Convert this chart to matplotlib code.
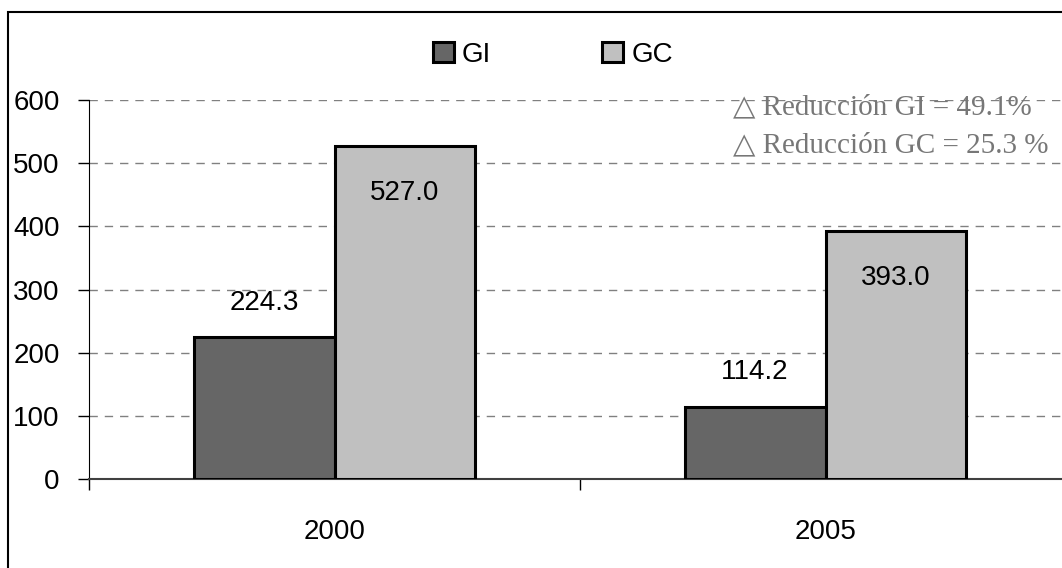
import matplotlib

matplotlib.use("Agg")

import matplotlib.pyplot as plt
from matplotlib.patches import Rectangle

years = ["2000", "2005"]
gi_values = [224.3, 114.2]
gc_values = [527.0, 393.0]
series_names = ["GI", "GC"]
notes = ["\u25b3 Reducción GI = 49.1%", "\u25b3 Reducción GC = 25.3 %"]

GI_COLOR = "#666666"
GC_COLOR = "#C0C0C0"
GRID_COLOR = "#808080"

plt.rcParams["font.family"] = ["Liberation Sans Narrow", "Liberation Sans", "DejaVu Sans"]

dpi = 100
fig = plt.figure(figsize=(1062 / dpi, 568 / dpi), dpi=dpi)
fig.patch.set_facecolor("white")

# outer frame, cropped at the right and bottom like the source image
fig.patches.append(Rectangle((8 / 1062, -0.1), 1.2, (568 - 12) / 568 + 0.1,
                             transform=fig.transFigure, fill=False,
                             edgecolor="black", linewidth=1.5, clip_on=False))

# axes run past the right edge of the figure
ax = fig.add_axes([89 / 1062, (568 - 479) / 568, (1071 - 89) / 1062, 379 / 568])
ax.set_facecolor("none")

x = list(range(len(years)))
width = 0.287
gi_x = [i - width / 2 for i in x]
gc_x = [i + width / 2 for i in x]
bars_gi = ax.bar(gi_x, gi_values, width=width, color=GI_COLOR, edgecolor="black",
                 linewidth=2.2, label=series_names[0], zorder=3)
bars_gc = ax.bar(gc_x, gc_values, width=width, color=GC_COLOR, edgecolor="black",
                 linewidth=2.2, label=series_names[1], zorder=3)

for bar, v in zip(bars_gi, gi_values):
    ax.annotate(f"{v:.1f}", (bar.get_x() + bar.get_width() / 2, v),
                xytext=(0, 25), textcoords="offset points",
                ha="center", va="center", fontsize=20, color="black")
for bar, v in zip(bars_gc, gc_values):
    ax.annotate(f"{v:.1f}", (bar.get_x() + bar.get_width() / 2, v),
                xytext=(0, -34), textcoords="offset points",
                ha="center", va="center", fontsize=20, color="black", zorder=4)

ax.set_ylim(0, 600)
ax.set_xlim(-0.5, len(years) - 0.5)
ax.set_yticks(range(0, 601, 100))
ax.tick_params(axis="y", direction="out", length=8, width=1, pad=13,
               labelsize=20, colors="black")

# category boundary ticks without labels, labels on minor ticks at centers
ax.set_xticks([i - 0.5 for i in range(len(years) + 1)])
ax.set_xticklabels([])
ax.set_xticks(x, minor=True)
ax.set_xticklabels(years, minor=True)
ax.tick_params(axis="x", which="major", direction="out", length=8, width=1)
ax.tick_params(axis="x", which="minor", length=0, pad=29, labelsize=20)

for yv in range(100, 601, 100):
    ax.axhline(yv, color=GRID_COLOR, linestyle=(0, (6, 5)), linewidth=1, zorder=1)

ax.spines["top"].set_visible(False)
ax.spines["right"].set_visible(False)
ax.spines["left"].set_color("black")
ax.spines["bottom"].set_color("#404040")
ax.spines["bottom"].set_linewidth(1.5)
ax.spines["left"].set_bounds(0, 600)

for i, note in enumerate(notes):
    fig.text(733 / 1062, 1 - (107 + 38 * i) / 568, note, ha="left", va="center",
             fontsize=21, color="#777777",
             family=["Liberation Serif", "DejaVu Serif", "DejaVu Sans"])

fig.legend(handles=[bars_gi, bars_gc], labels=series_names, loc="center",
           bbox_to_anchor=(553 / 1062, 1 - 55 / 568), ncol=2, frameon=False,
           fontsize=20, handlelength=0.75, handleheight=0.75, handletextpad=0.3,
           columnspacing=4.0)

fig.savefig("out.png", dpi=dpi)
